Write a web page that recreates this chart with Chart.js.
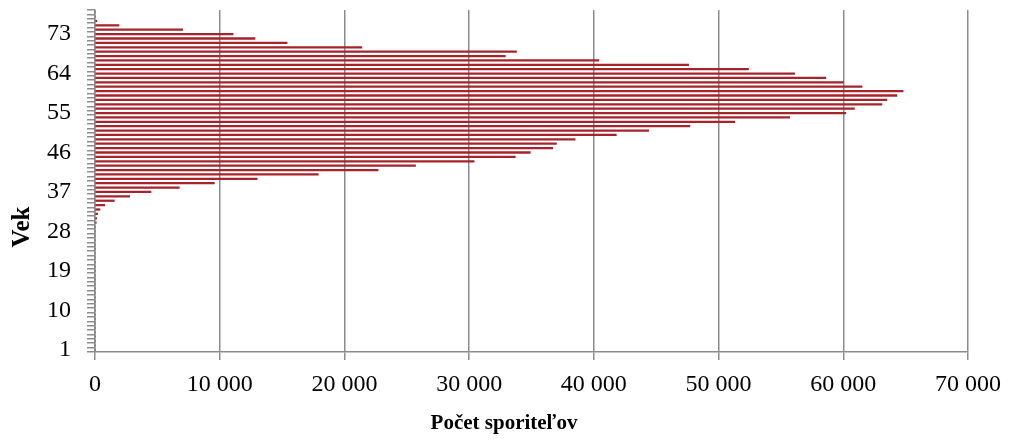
<!DOCTYPE html>
<html>
<head>
<meta charset="utf-8">
<script src="https://cdn.jsdelivr.net/npm/chart.js@4"></script>
<style>
  body { margin: 0; background: #fff; }
</style>
</head>
<body>
<canvas id="vekChart" width="1011" height="441"></canvas>
<script>
  // vek (roky) – zdola nahor
  const ages = [
    1, 2, 3, 4, 5, 6, 7, 8, 9, 10, 11, 12, 13, 14, 15, 16, 17, 18, 19, 20,
    21, 22, 23, 24, 25, 26, 27, 28, 29, 30, 31, 32, 33, 34, 35, 36, 37, 38, 39, 40,
    41, 42, 43, 44, 45, 46, 47, 48, 49, 50, 51, 52, 53, 54, 55, 56, 57, 58, 59, 60,
    61, 62, 63, 64, 65, 66, 67, 68, 69, 70, 71, 72, 73, 74, 75, 76, 77, 78
  ];

  // pocet sporitelov pre kazdy vek
  const savers = [
    0, 0, 0, 0, 0, 0, 0, 0, 0, 0, 0, 0, 0, 0, 0, 0, 0, 0, 0, 0,
    0, 0, 0, 0, 0, 0, 0, 0, 0, 100, 130, 210, 400, 780, 1550, 2780, 4490, 6760, 9570, 13000,
    17900, 22700, 25700, 30400, 33700, 34900, 36700, 37000, 38500, 41800, 44400, 47700, 51300, 55700, 60200, 60900, 63100, 63500, 64300, 64800,
    61500, 60000, 58600, 56100, 52400, 47600, 40400, 32900, 33800, 21400, 15400, 12830, 11070, 7030, 1925, 150, 0, 0
  ];

  const xTicks = [0, 10000, 20000, 30000, 40000, 50000, 60000, 70000];
  const xTitle = 'Počet sporiteľov';
  const yTitle = 'Vek';

  const fmt = v => String(v).replace(/\B(?=(\d{3})+(?!\d))/g, ' ');
  const serif = '"Liberation Serif", "Times New Roman", serif';
  const gridGray = '#8c8c8c';

  // nazvy osi
  const axisTitles = {
    id: 'axisTitles',
    afterDraw(chart) {
      const ctx = chart.ctx;
      ctx.save();
      ctx.fillStyle = '#000';
      ctx.textAlign = 'center';
      ctx.textBaseline = 'middle';
      ctx.font = 'bold 21px ' + serif;
      ctx.fillText(xTitle, 504, 424);
      ctx.translate(23, 227);
      ctx.rotate(-Math.PI / 2);
      ctx.font = 'bold 25px ' + serif;
      ctx.fillText(yTitle, 0, 0);
      ctx.restore();
    }
  };

  const data = {
    labels: ages,
    datasets: [{
      label: xTitle,
      data: savers,
      backgroundColor: 'rgb(165, 35, 42)',
      borderWidth: 0,
      barThickness: 1.6,
    }]
  };

  const config = {
    type: 'bar',
    data: data,
    plugins: [axisTitles],
    options: {
      indexAxis: 'y',
      responsive: false,
      animation: false,
      layout: { padding: { top: 10, right: 43, left: 0, bottom: 0 } },
      plugins: {
        legend: { display: false },
        tooltip: { enabled: false }
      },
      scales: {
        x: {
          min: 0,
          max: 70000,
          afterBuildTicks: scale => { scale.ticks = xTicks.map(v => ({ value: v })); },
          afterFit: scale => { scale.height = 89; },
          grid: { color: gridGray, lineWidth: 1.5, tickLength: 8 },
          border: { color: gridGray, width: 1.5 },
          ticks: {
            color: '#000',
            font: { family: serif, size: 24 },
            padding: 10,
            maxRotation: 0,
            callback: v => fmt(v)
          }
        },
        y: {
          reverse: true,
          afterFit: scale => {
            scale.width = 95;
            scale.paddingTop = 0;
            scale.paddingBottom = 0;
          },
          grid: { drawOnChartArea: false, color: gridGray, lineWidth: 1.5, tickLength: 8 },
          border: { color: gridGray, width: 1.5 },
          ticks: {
            color: '#000',
            autoSkip: false,
            font: { family: serif, size: 24 },
            padding: 16,
            callback: (v, i) => (i % 9 === 0 ? String(ages[i]) : '')
          }
        }
      }
    }
  };

  const vekChart = new Chart(document.getElementById('vekChart'), config);
</script>
</body>
</html>
